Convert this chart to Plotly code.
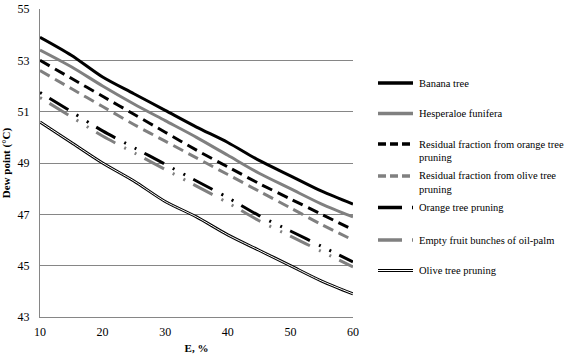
import plotly.graph_objects as go

# ---------------- data ----------------
E = [10, 15, 20, 25, 30, 35, 40, 45, 50, 55, 60]
banana_tree = [53.9, 53.2, 52.35, 51.7, 51.05, 50.4, 49.8, 49.1, 48.5, 47.9, 47.4]
hesperaloe_funifera = [53.4, 52.75, 52.0, 51.3, 50.65, 50.0, 49.3, 48.6, 48.0, 47.4, 46.9]
residual_orange = [53.0, 52.3, 51.6, 50.9, 50.2, 49.5, 48.85, 48.2, 47.6, 47.0, 46.4]
residual_olive = [52.6, 51.9, 51.2, 50.5, 49.85, 49.2, 48.55, 47.9, 47.25, 46.6, 46.0]
orange_tree_pruning = [51.75, 51.0, 50.25, 49.6, 48.95, 48.3, 47.65, 46.95, 46.35, 45.75, 45.15]
empty_fruit_bunches = [51.55, 50.8, 50.05, 49.4, 48.75, 48.1, 47.45, 46.75, 46.15, 45.55, 44.95]
olive_tree_pruning = [50.6, 49.8, 49.0, 48.3, 47.5, 46.9, 46.2, 45.6, 45.0, 44.4, 43.9]

x_ticks = [10, 20, 30, 40, 50, 60]
y_ticks = [43, 45, 47, 49, 51, 53, 55]

labels = ["Banana tree", "Hesperaloe funifera",
          "Residual fraction from orange tree<br>pruning",
          "Residual fraction from olive tree<br>pruning",
          "Orange tree pruning", "Empty fruit bunches of oil-palm",
          "Olive tree pruning"]

BLACK = "#000000"
GRAY = "#808080"
GRID = "#868686"
FONT = "Liberation Serif"
DASH = "11px,6px"
DASHDOTDOT = "2px,9px,22px,10px,2px,10px"
LEG_DASH = "8px,4px"
LEG_DASHDOTDOT = "24px,10px,2px,10px,2px,9px"

W, H = 573, 357
L, R, T, B = 40, 353, 9, 317

series = [
    (banana_tree, BLACK, "solid"),
    (hesperaloe_funifera, GRAY, "solid"),
    (residual_orange, BLACK, DASH),
    (residual_olive, GRAY, DASH),
    (orange_tree_pruning, BLACK, DASHDOTDOT),
    (empty_fruit_bunches, GRAY, DASHDOTDOT),
]

fig = go.Figure()
for (vals, col, dash), name in zip(series, labels):
    fig.add_trace(go.Scatter(x=E, y=vals, mode="lines", name=name.replace("<br>", " "),
                             line=dict(color=col, width=3, dash=dash,
                                       shape="spline", smoothing=0.8),
                             showlegend=False))
# double line for olive tree pruning
fig.add_trace(go.Scatter(x=E, y=olive_tree_pruning, mode="lines", name=labels[6],
                         line=dict(color=BLACK, width=3, shape="spline", smoothing=0.8),
                         showlegend=False))
fig.add_trace(go.Scatter(x=E, y=olive_tree_pruning, mode="lines", name=labels[6],
                         line=dict(color="white", width=1, shape="spline", smoothing=0.8),
                         showlegend=False, hoverinfo="skip"))


def px(xp):
    return (xp - L) / (R - L)


def py(yp):
    return (B - yp) / (B - T)


# ---------------- manual legend ----------------
leg_rows = [83, 113.5, 144, 176, 207.5, 240, 270.5]
leg_styles = [
    (BLACK, "solid"), (GRAY, "solid"), (BLACK, LEG_DASH), (GRAY, LEG_DASH),
    (BLACK, LEG_DASHDOTDOT), (GRAY, LEG_DASHDOTDOT), (BLACK, "solid"),
]
shapes = []
annotations = []
for i, (yy, (col, dash), lab) in enumerate(zip(leg_rows, leg_styles, labels)):
    x0, x1 = 378, 413
    shapes.append(dict(type="line", xref="paper", yref="paper",
                       x0=px(x0), x1=px(x1), y0=py(yy), y1=py(yy),
                       line=dict(color=col, width=3.5 if i < 6 else 3, dash=dash)))
    if i == 6:
        shapes.append(dict(type="line", xref="paper", yref="paper",
                           x0=px(x0), x1=px(x1), y0=py(yy), y1=py(yy),
                           line=dict(color="white", width=1)))
    for j, part in enumerate(lab.split("<br>")):
        annotations.append(dict(text=part, xref="paper", yref="paper",
                                x=px(417), y=py(yy + 13 * j), xanchor="left",
                                yanchor="middle", showarrow=False,
                                font=dict(family=FONT, size=10.5, color="black")))

fig.update_layout(
    width=W, height=H,
    margin=dict(l=L, r=W - R, t=T, b=H - B, pad=0),
    paper_bgcolor="white", plot_bgcolor="white",
    font=dict(family=FONT, size=12, color="black"),
    shapes=shapes, annotations=annotations,
    showlegend=False,
)
fig.update_xaxes(range=[10, 60], tickvals=x_ticks, showgrid=False, zeroline=False,
                 showline=True, linecolor=GRID, linewidth=1, ticks="",
                 ticklabelstandoff=4, automargin=False,
                 title=dict(text="<b>E, %</b>", font=dict(family=FONT, size=11), standoff=5))
fig.update_yaxes(range=[43, 55], tickvals=y_ticks, showgrid=True, gridcolor=GRID,
                 gridwidth=1, zeroline=False, showline=True, linecolor=GRID,
                 linewidth=1, ticks="", ticklabelstandoff=7, automargin=False,
                 title=dict(text="<b>Dew point (°C)</b>", font=dict(family=FONT, size=11),
                            standoff=4))

fig.write_html("out.html", config={"displayModeBar": False},
               post_script="document.body.style.margin='0';")
